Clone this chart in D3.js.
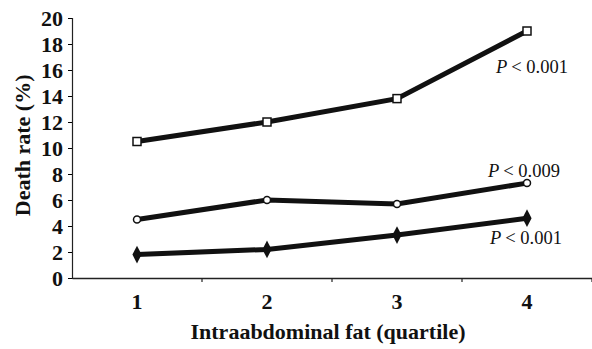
<!DOCTYPE html>
<html lang="en">
<head>
  <meta charset="UTF-8">
  <title>Death rate by intraabdominal fat</title>
  <style>
    html, body { margin: 0; background: #fff; overflow: hidden; }
    svg { display: block; }
    svg text { font-family: "Liberation Serif", "Times New Roman", serif; }
    .tick text { font-weight: bold; font-size: 22px; fill: #111; }
    .title { font-weight: bold; font-size: 22px; fill: #111; }
    .note { font-size: 18.5px; fill: #111; }
  </style>
</head>
<body>
  <div id="chart"></div>
  <script src="https://cdn.jsdelivr.net/npm/d3@7"></script>
  <script>
    const quartiles = ['1', '2', '3', '4']
    const highRate = [10.5, 12.0, 13.8, 19.0]
    const midRate = [4.5, 6.0, 5.7, 7.3]
    const lowRate = [1.8, 2.2, 3.3, 4.6]
    const yTicks = [0, 2, 4, 6, 8, 10, 12, 14, 16, 18, 20]
    const pLabels = ['< 0.001', '< 0.009', '< 0.001']

    const width = 592
    const height = 349
    const margin = { top: 18, right: 0, bottom: 71, left: 72 }

    const x = d3.scaleBand().domain(quartiles).range([margin.left, width - margin.right])
    const y = d3.scaleLinear().domain([0, 20]).range([height - margin.bottom, margin.top])

    const svg = d3.select('#chart').append('svg')
      .attr('width', width)
      .attr('height', height)

    // axes
    const yAxis = svg.append('g')
      .attr('transform', `translate(${margin.left},0)`)
      .call(d3.axisLeft(y).tickValues(yTicks).tickSize(4).tickPadding(5))
    yAxis.attr('font-family', null)
    yAxis.select('.domain').attr('stroke', '#222').attr('stroke-width', 1.2)

    const xAxis = svg.append('g')
      .attr('transform', `translate(0,${y(0)})`)
      .call(d3.axisBottom(x).tickSize(0).tickPadding(15))
    xAxis.attr('font-family', null)
    xAxis.select('.domain').attr('stroke', '#222').attr('stroke-width', 1.5)

    // category boundary ticks
    const bounds = quartiles.map(q => x(q) + x.bandwidth())
    svg.append('g').selectAll('line')
      .data(bounds)
      .join('line')
      .attr('x1', d => d).attr('x2', d => d)
      .attr('y1', y(0)).attr('y2', y(0) + 4)
      .attr('stroke', '#222')
      .attr('stroke-width', 1.2)

    const cx = q => x(q) + x.bandwidth() / 2
    const line = d3.line().x((d, i) => cx(quartiles[i])).y(d => y(d))

    const series = [
      { values: highRate, shape: 'square' },
      { values: midRate, shape: 'circle' },
      { values: lowRate, shape: 'diamond' }
    ]

    series.forEach(s => {
      svg.append('path')
        .datum(s.values)
        .attr('d', line)
        .attr('fill', 'none')
        .attr('stroke', '#111')
        .attr('stroke-width', 5)

      const g = svg.append('g')
      if (s.shape === 'square') {
        g.selectAll('rect').data(s.values).join('rect')
          .attr('x', (d, i) => cx(quartiles[i]) - 4)
          .attr('y', d => y(d) - 4)
          .attr('width', 8).attr('height', 8)
          .attr('fill', '#fff').attr('stroke', '#111').attr('stroke-width', 1.5)
      } else if (s.shape === 'circle') {
        g.selectAll('circle').data(s.values).join('circle')
          .attr('cx', (d, i) => cx(quartiles[i]))
          .attr('cy', d => y(d))
          .attr('r', 3.5)
          .attr('fill', '#fff').attr('stroke', '#111').attr('stroke-width', 1.5)
      } else {
        g.selectAll('path').data(s.values).join('path')
          .attr('d', d3.symbol(d3.symbolDiamond, 90))
          .attr('transform', (d, i) => `translate(${cx(quartiles[i])},${y(d)}) scale(0.9,1)`)
          .attr('fill', '#111')
      }
    })

    // p-value notes
    const noteData = [
      { text: pLabels[0], x: 496, v: highRate[3] - 3.2 },
      { text: pLabels[1], x: 488, v: midRate[3] + 0.5 },
      { text: pLabels[2], x: 490, v: lowRate[3] - 2.0 }
    ]
    const notes = svg.append('g').selectAll('text')
      .data(noteData)
      .join('text')
      .attr('class', 'note')
      .attr('x', d => d.x)
      .attr('y', d => y(d.v))
    notes.append('tspan').attr('font-style', 'italic').text('P')
    notes.append('tspan').attr('dx', 4).text(d => d.text)

    // axis titles
    svg.append('text')
      .attr('class', 'title')
      .attr('x', 328)
      .attr('y', 339)
      .attr('text-anchor', 'middle')
      .text('Intraabdominal fat (quartile)')

    svg.append('text')
      .attr('class', 'title')
      .attr('transform', `translate(30,${y(10.2)}) rotate(-90)`)
      .attr('text-anchor', 'middle')
      .text('Death rate (%)')
  </script>
</body>
</html>
